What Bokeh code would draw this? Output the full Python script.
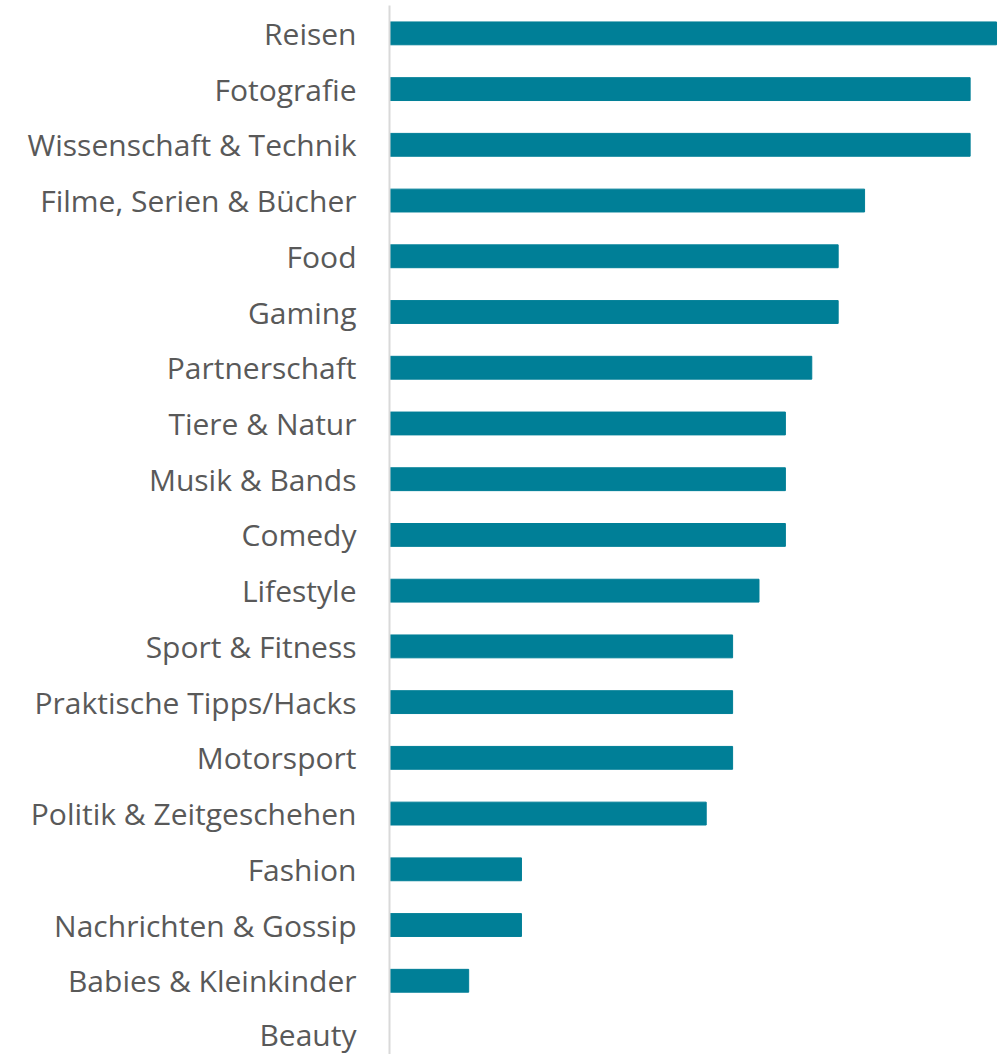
from bokeh.plotting import figure
from bokeh.models import Range1d, FixedTicker
from bokeh.embed import file_html
from bokeh.resources import INLINE

categories = ["Reisen", "Fotografie", "Wissenschaft & Technik", "Filme, Serien & Bücher",
              "Food", "Gaming", "Partnerschaft", "Tiere & Natur", "Musik & Bands", "Comedy",
              "Lifestyle", "Sport & Fitness", "Praktische Tipps/Hacks", "Motorsport",
              "Politik & Zeitgeschehen", "Fashion", "Nachrichten & Gossip",
              "Babies & Kleinkinder", "Beauty"]
values = [23, 22, 22, 18, 17, 17, 16, 15, 15, 15, 14, 13, 13, 13, 12, 5, 5, 3, 0]

n = len(categories)
ypos = [n - 1 - i for i in range(n)]

p = figure(width=1005, height=1054, output_backend="svg", toolbar_location=None,
           x_range=Range1d(0, 23.34), y_range=Range1d(-0.323, 18.50),
           min_border_left=389, min_border_right=0, min_border_top=5, min_border_bottom=0)

p.hbar(y=ypos, right=values, left=0, height=0.41, color="#007F97")

p.xaxis.visible = False
p.grid.visible = False
p.outline_line_color = None

ax = p.yaxis[0]
ax.ticker = FixedTicker(ticks=ypos)
ax.major_label_overrides = {y: c for y, c in zip(ypos, categories)}
ax.major_tick_line_color = None
ax.minor_tick_line_color = None
ax.axis_line_color = "#D9D9D9"
ax.axis_line_width = 2
ax.major_label_standoff = 27
ax.major_label_text_font = "Open Sans"
ax.major_label_text_font_size = "30px"
ax.major_label_text_color = "#595959"

open("out.html", "w").write(file_html(p, INLINE))
